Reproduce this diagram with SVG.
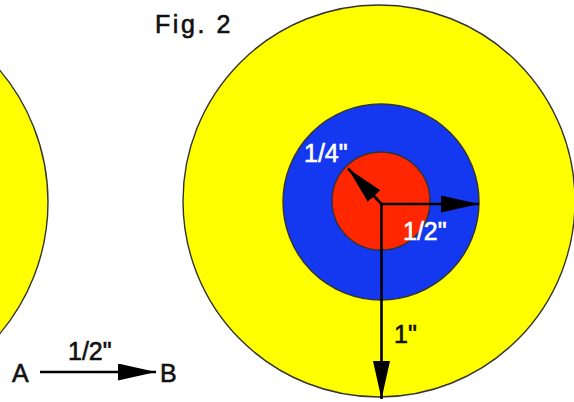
<svg xmlns="http://www.w3.org/2000/svg" width="574" height="402" viewBox="0 0 574 402">
<style>
.ring{stroke:#333;stroke-width:1.4}
.y{fill:#FFFF00}
.b{fill:#1437F0}
.r{fill:#FF2600}
.arr{stroke:#000;stroke-width:2.6;fill:none;marker-end:url(#head)}
.lbl{font-family:"Liberation Sans",Arial,sans-serif;font-size:25px;stroke-width:0.6}
.w{fill:#fff;stroke:#fff}
.k{fill:#111;stroke:#111}
</style>
<defs>
<marker id="head" markerUnits="userSpaceOnUse" markerWidth="40" markerHeight="18" refX="38" refY="8.5" orient="auto">
<path d="M0,0 L38,8.5 L0,17 z" fill="#000"/>
</marker>
</defs>
<rect width="574" height="402" fill="#fff"/>
<g id="left-circle"><circle class="ring y" cx="-156" cy="202" r="204"/></g>
<g id="outer-circle"><circle class="ring y" cx="379" cy="201" r="196"/></g>
<g id="middle-circle"><circle class="ring b" cx="381" cy="202" r="98"/></g>
<g id="inner-circle"><circle class="ring r" cx="381" cy="201" r="49"/></g>
<g id="connectors">
<line class="arr" x1="381.5" y1="204" x2="479" y2="204"/>
<line class="arr" x1="381.5" y1="204" x2="348" y2="168.5"/>
<line class="arr" x1="381.5" y1="204" x2="381.5" y2="399"/>
<line class="arr" x1="40" y1="372" x2="156" y2="372" stroke="#222"/>
</g>
<g id="labels">
<text class="lbl k" x="155" y="33" font-size="28" letter-spacing="2.6">Fig. 2</text>
<text class="lbl w" x="304" y="162">1/4"</text>
<text class="lbl w" x="403" y="240">1/2"</text>
<text class="lbl k" x="394" y="343">1"</text>
<text class="lbl k" x="68" y="360">1/2"</text>
<text class="lbl k" x="12" y="382" font-size="28">A</text>
<text class="lbl k" x="160" y="382" font-size="28">B</text>
</g>
</svg>
